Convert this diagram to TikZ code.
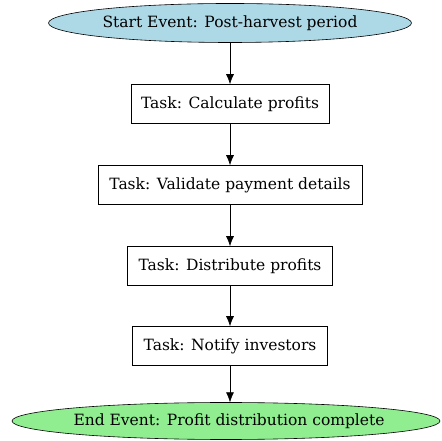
\documentclass[tikz,border=0pt]{standalone}
\usepackage{fontspec}
\setmainfont{DejaVu Serif}
\usetikzlibrary{arrows.meta}
\definecolor{startblue}{RGB}{173,216,230}
\definecolor{endgreen}{RGB}{144,238,144}
\tikzset{
	event/.style={draw, line width=0.6pt},
	label/.style={inner sep=0pt, font=\fontsize{15.5}{18}\selectfont},
	task/.style={draw, rectangle, inner sep=0pt, line width=0.6pt, minimum height=39pt, font=\fontsize{15.5}{18}\selectfont},
	flow/.style={-{Latex[length=10pt,width=8pt]}, line width=0.6pt}
}
\begin{document}
\begin{tikzpicture}[x=1pt,y=1pt]
	\useasboundingbox (0,0) rectangle (441,441);
	% start and end of the process
	\draw[event, fill=startblue] (230,418) ellipse (181.5 and 19.5);
	\node[label, minimum height=39pt] (start) at (230,418) {Start Event: Post-harvest period};
	\draw[event, fill=endgreen] (226,20) ellipse (214 and 18.5);
	\node[label, minimum height=37pt] (end) at (229,20) {End Event: Profit distribution complete};
	% the tasks in between
	\node[task, minimum width=198pt] (calc) at (230,337) {Task: Calculate profits};
	\node[task, minimum width=264pt] (valid) at (230,256) {Task: Validate payment details};
	\node[task, minimum width=205pt] (distr) at (230,175) {Task: Distribute profits};
	\node[task, minimum width=195pt] (notify) at (230,95) {Task: Notify investors};
	% connect the steps
	\draw[flow] (start.south) -- (calc.north);
	\draw[flow] (calc.south) -- (valid.north);
	\draw[flow] (valid.south) -- (distr.north);
	\draw[flow] (distr.south) -- (notify.north);
	\draw[flow] (notify.south) -- (notify.south |- end.north);
\end{tikzpicture}
\end{document}
